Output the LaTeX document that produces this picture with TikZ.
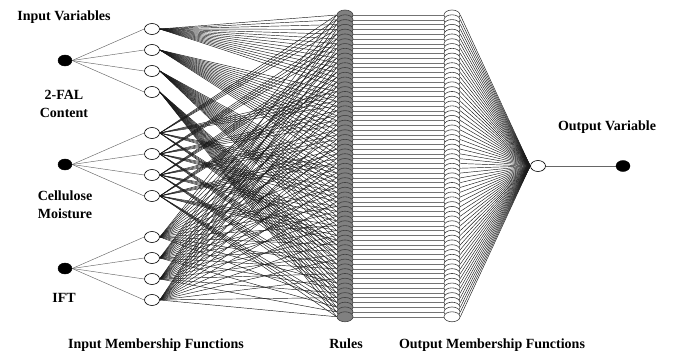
\documentclass[tikz,border=0pt]{standalone}
\usepackage{fontspec}
\setmainfont{Liberation Serif}
\usetikzlibrary{shapes.geometric,backgrounds}

\begin{document}
\begin{tikzpicture}[
    x=1pt, y=-1pt,
    font=\fontsize{14}{18}\selectfont\bfseries,
    invar/.style={draw, ellipse, fill=black, minimum width=14pt, minimum height=11pt, inner sep=0pt},
    mfnode/.style={draw, ellipse, fill=white, minimum width=15pt, minimum height=11pt, inner sep=0pt, line width=0.6pt},
    rulenode/.style={draw=black!75, ellipse, fill=black!50, minimum width=16pt, minimum height=10pt, inner sep=0pt, line width=0.6pt},
    outmf/.style={draw=black!75, ellipse, fill=white, minimum width=16pt, minimum height=10pt, inner sep=0pt, line width=0.6pt},
    link/.style={draw=black!90, line width=0.45pt},
    lbl/.style={align=center, inner sep=0pt}
]
\useasboundingbox (0,0) rectangle (676,356);

% input variables and their membership functions
\foreach \i/\c in {1/60.5, 2/164.5, 3/268.5} {
  \node[invar] (in\i) at (65,\c) {};
  \foreach \j in {1,...,4}
    \node[mfnode] (m\i\j) at (152,\c+21*\j-52.5) {};
}

% rules and output membership functions
\foreach \r in {1,...,64} {
  \node[rulenode] (r\r) at (345,15+4.79*\r-4.79) {};
  \node[outmf] (o\r) at (452,15+4.79*\r-4.79) {};
}

\node[mfnode] (omf) at (538,166) {};
\node[invar] (out) at (623,166) {};

% connections
\begin{pgfonlayer}{background}
\foreach \i in {1,2,3}
  \foreach \j in {1,...,4}
    \draw[link, draw=black!60] (in\i.east) -- (m\i\j.west);
\foreach \r in {1,...,64} {
  \pgfmathtruncatemacro\ia{floor((\r-1)/16)+1}
  \pgfmathtruncatemacro\jb{mod(floor((\r-1)/4),4)+1}
  \pgfmathtruncatemacro\kc{mod(\r-1,4)+1}
  \draw[link] (m1\ia.east) -- (r\r.west);
  \draw[link] (m2\jb.east) -- (r\r.west);
  \draw[link] (m3\kc.east) -- (r\r.west);
  \draw[link, draw=black!55] (r\r.east) -- (o\r.west);
  \draw[link] (o\r.east) -- (omf.west);
}
\draw[link, draw=black!60] (omf.east) -- (out.west);
\end{pgfonlayer}

% labels
\node[lbl] (tin) at (64,17) {Input Variables};
\node[lbl] (t1) at (64,104) {2-FAL\\Content};
\node[lbl] (t2) at (65,205) {Cellulose\\Moisture};
\node[lbl] (t3) at (64,298) {IFT};
\node[lbl] (timf) at (156,345) {Input Membership Functions};
\node[lbl] (trule) at (346,344) {Rules};
\node[lbl] (tomf) at (492,345) {Output Membership Functions};
\node[lbl] (tout) at (607,127) {Output Variable};
\end{tikzpicture}
\end{document}
